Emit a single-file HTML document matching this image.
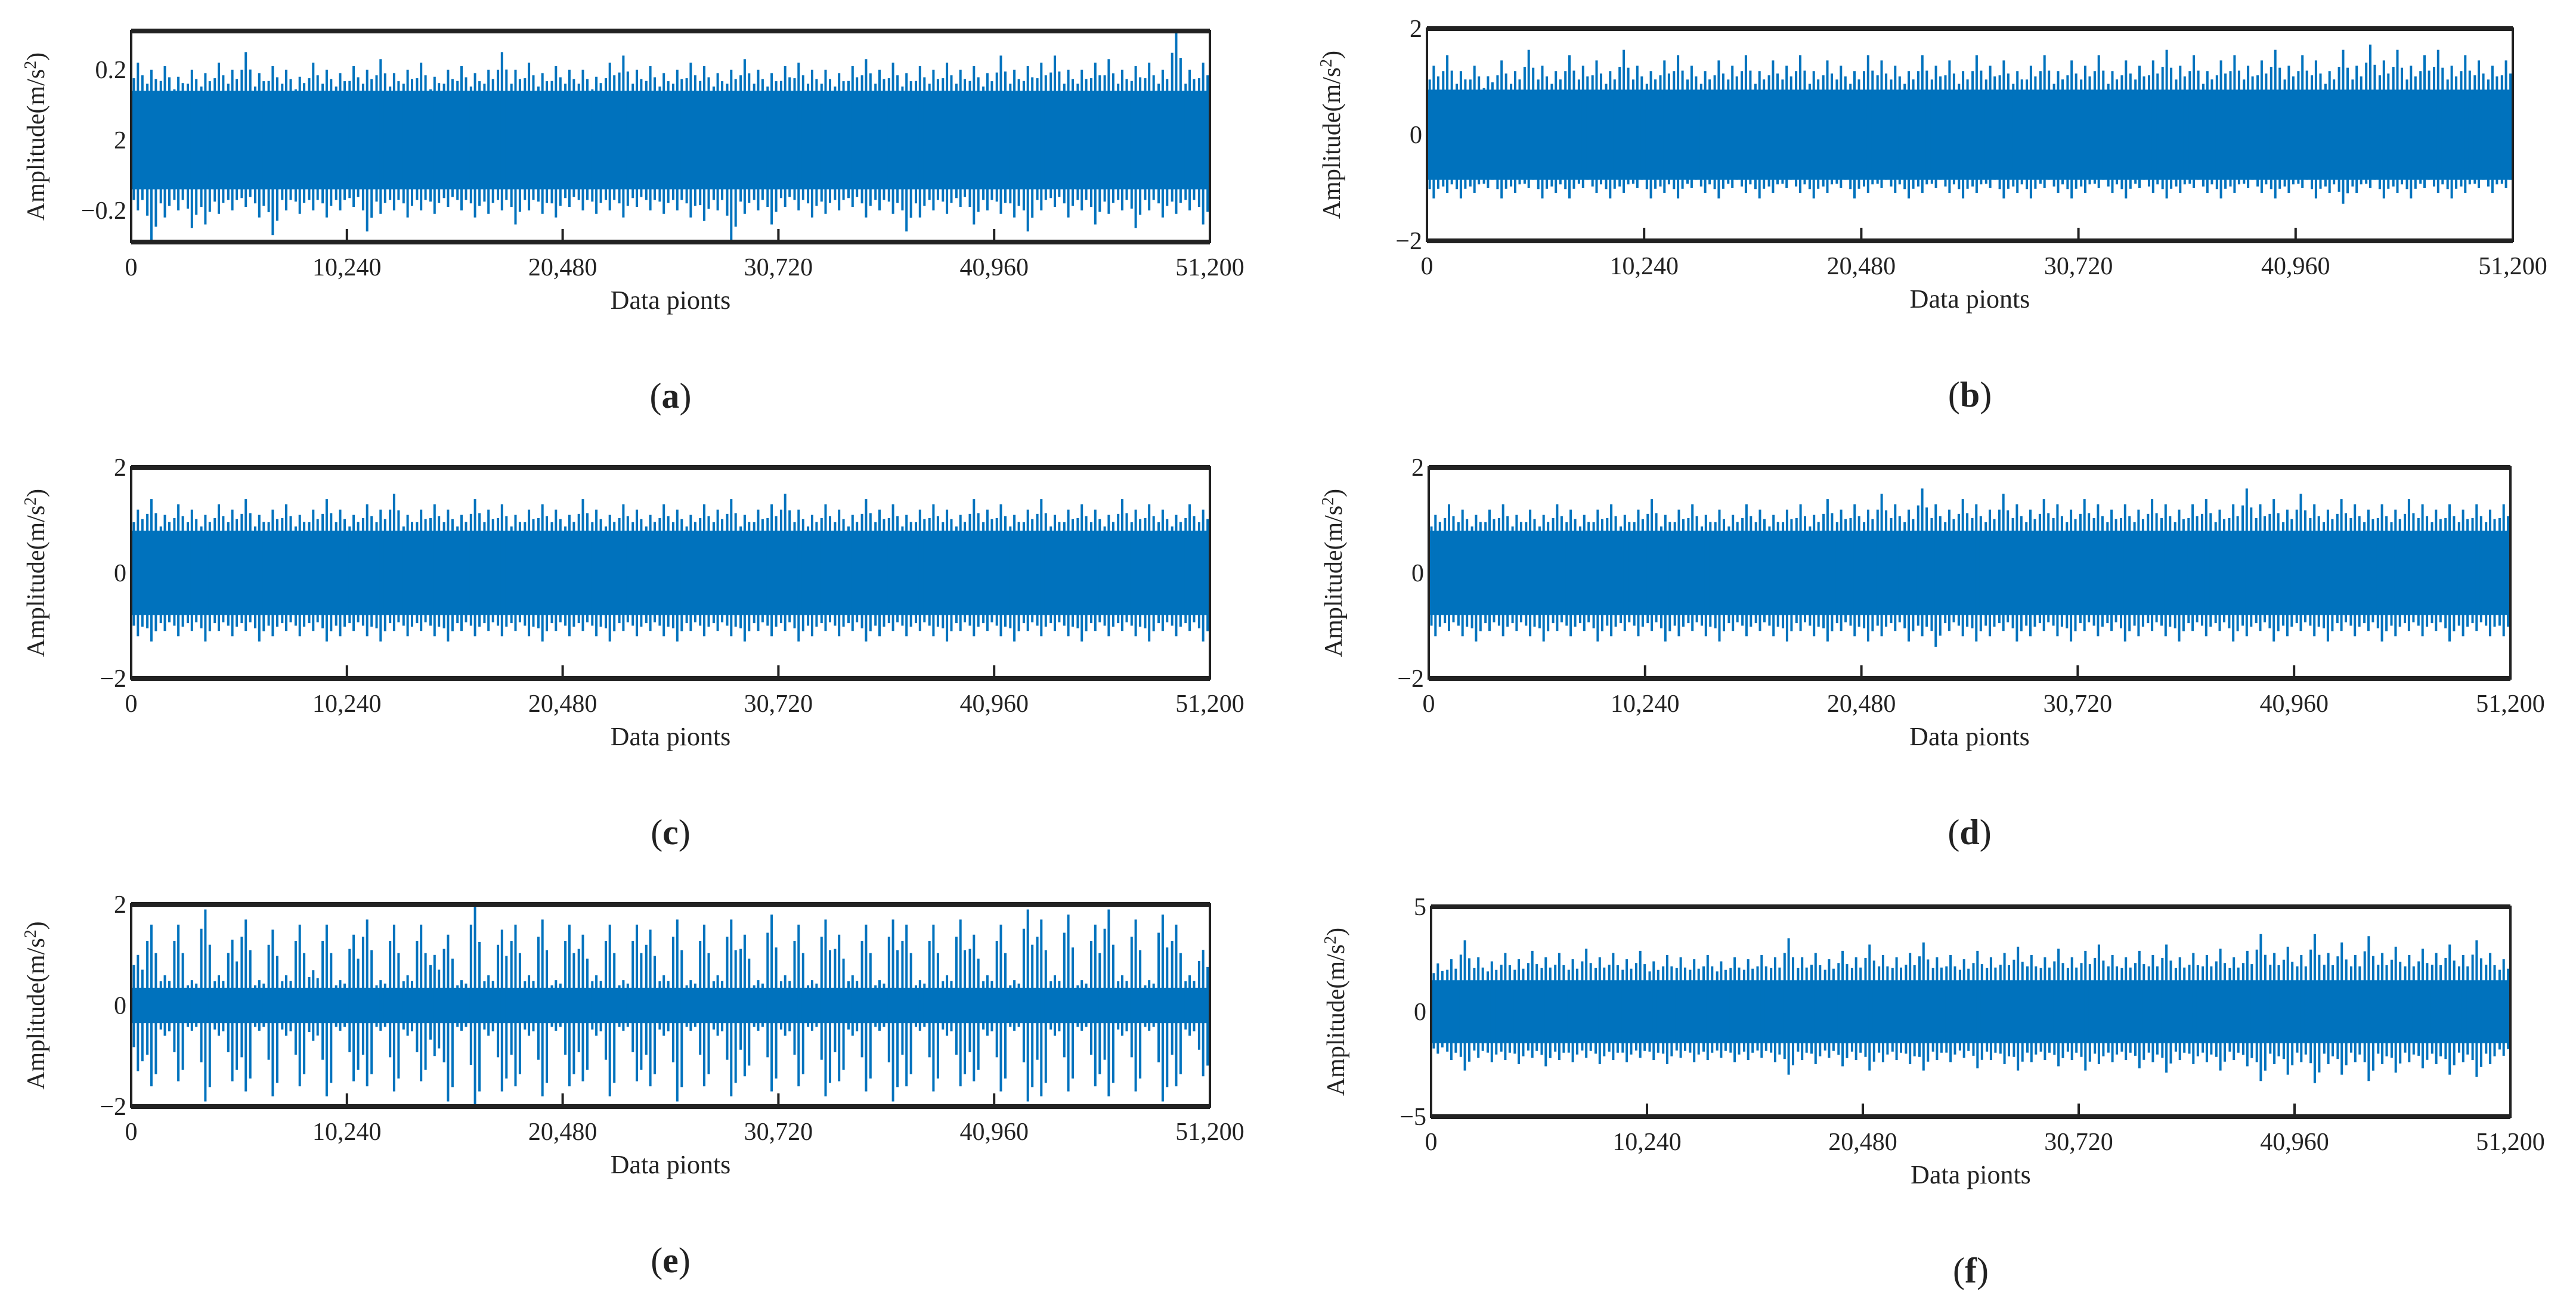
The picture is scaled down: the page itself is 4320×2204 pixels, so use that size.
<!DOCTYPE html>
<html><head><meta charset="utf-8">
<style>
html,body{margin:0;padding:0;background:#fff;}
svg{display:block;}
text{font-family:"Liberation Serif",serif;fill:#222;}
</style></head>
<body>
<svg id="fig" width="4320" height="2204" viewBox="0 0 4320 2204"></svg>
<script>
const xTicks=[0,10240,20480,30720,40960,51200];
const xTickLabels=["0","10,240","20,480","30,720","40,960","51,200"];
const panelIds=["a","b","c","d","e","f"];
const yMinA=-0.29, yMaxA=0.31, yTickA=[0.2,0,-0.2], yTickLabelA=["0.2","2","\u22120.2"];
const coreA=0.14;
const upA=[0.22,0.2,0.21,0.18,0.2,0.19,0.22,0.2,0.25,0.19,0.21,0.2,0.18,0.22,0.2,0.19,0.21,0.2,0.23,0.19,0.2,0.22,0.18,0.2,0.21,0.19,0.2,0.25,0.2,0.22,0.19,0.21,0.2,0.2,0.18,0.22,0.24,0.2,0.21,0.19,0.2,0.22,0.21,0.19,0.2,0.23,0.2,0.19,0.21,0.22,0.2,0.2,0.19,0.21,0.23,0.2,0.22,0.19,0.21,0.2,0.22,0.2,0.21,0.19,0.24,0.2,0.21,0.22,0.24,0.2,0.2,0.22,0.23,0.2,0.21,0.22,0.2,0.31,0.2,0.22];
const dnA=[-0.2,-0.29,-0.22,-0.2,-0.25,-0.24,-0.21,-0.2,-0.19,-0.22,-0.27,-0.2,-0.21,-0.2,-0.22,-0.2,-0.19,-0.26,-0.21,-0.2,-0.22,-0.2,-0.21,-0.19,-0.2,-0.22,-0.21,-0.2,-0.24,-0.2,-0.21,-0.22,-0.19,-0.2,-0.21,-0.2,-0.22,-0.19,-0.2,-0.21,-0.2,-0.22,-0.23,-0.2,-0.29,-0.21,-0.2,-0.24,-0.19,-0.2,-0.22,-0.21,-0.2,-0.19,-0.22,-0.2,-0.21,-0.26,-0.22,-0.2,-0.21,-0.19,-0.24,-0.2,-0.21,-0.22,-0.26,-0.2,-0.19,-0.22,-0.2,-0.24,-0.21,-0.2,-0.25,-0.2,-0.22,-0.21,-0.2,-0.24];
const yMinB=-2, yMaxB=2, yTickB=[2,0,-2], yTickLabelB=["2","0","\u22122"];
const coreB=0.85;
const upB=[1.3,1.5,1.2,1.3,1.1,1.4,1.2,1.6,1.3,1.2,1.5,1.3,1.4,1.2,1.6,1.3,1.2,1.4,1.5,1.3,1.2,1.4,1.3,1.5,1.2,1.4,1.3,1.5,1.2,1.4,1.3,1.2,1.5,1.4,1.3,1.2,1.5,1.3,1.4,1.2,1.5,1.3,1.4,1.2,1.3,1.5,1.2,1.4,1.3,1.5,1.2,1.4,1.3,1.4,1.6,1.3,1.5,1.2,1.4,1.5,1.3,1.4,1.6,1.3,1.5,1.4,1.2,1.6,1.3,1.7,1.4,1.6,1.3,1.5,1.6,1.3,1.5,1.4,1.3,1.4];
const dnB=[-1.2,-1.1,-1.2,-1.1,-1.0,-1.2,-1.1,-1.0,-1.2,-1.1,-1.2,-1.0,-1.1,-1.2,-1.1,-1.0,-1.2,-1.1,-1.2,-1.0,-1.1,-1.2,-1.0,-1.1,-1.2,-1.1,-1.0,-1.1,-1.2,-1.1,-1.0,-1.2,-1.1,-1.0,-1.1,-1.2,-1.1,-1.0,-1.1,-1.2,-1.1,-1.0,-1.2,-1.1,-1.2,-1.0,-1.1,-1.2,-1.1,-1.0,-1.1,-1.2,-1.0,-1.1,-1.2,-1.1,-1.0,-1.1,-1.2,-1.1,-1.0,-1.1,-1.2,-1.1,-1.0,-1.2,-1.1,-1.3,-1.1,-1.0,-1.2,-1.1,-1.2,-1.0,-1.1,-1.2,-1.1,-1.0,-1.1,-1.0];
const yMinC=-2, yMaxC=2, yTickC=[2,0,-2], yTickLabelC=["2","0","\u22122"];
const coreC=0.8;
const upC=[1.2,1.4,1.1,1.3,1.2,1.1,1.3,1.2,1.4,1.1,1.2,1.3,1.1,1.2,1.4,1.2,1.1,1.3,1.2,1.5,1.1,1.2,1.3,1.2,1.1,1.4,1.2,1.3,1.1,1.2,1.3,1.2,1.1,1.4,1.2,1.1,1.3,1.2,1.1,1.3,1.2,1.1,1.3,1.2,1.4,1.1,1.2,1.3,1.5,1.2,1.1,1.3,1.2,1.1,1.4,1.2,1.3,1.1,1.2,1.3,1.2,1.1,1.4,1.2,1.3,1.1,1.2,1.4,1.1,1.2,1.3,1.2,1.1,1.4,1.2,1.3,1.2,1.1,1.3,1.2];
const dnC=[-1.2,-1.3,-1.1,-1.2,-1.1,-1.3,-1.1,-1.2,-1.1,-1.3,-1.2,-1.1,-1.2,-1.1,-1.3,-1.2,-1.1,-1.2,-1.3,-1.1,-1.2,-1.1,-1.2,-1.3,-1.1,-1.2,-1.1,-1.2,-1.1,-1.2,-1.3,-1.1,-1.2,-1.1,-1.2,-1.3,-1.1,-1.2,-1.1,-1.2,-1.3,-1.1,-1.2,-1.1,-1.2,-1.3,-1.1,-1.2,-1.1,-1.3,-1.2,-1.1,-1.2,-1.1,-1.3,-1.2,-1.1,-1.2,-1.1,-1.2,-1.3,-1.1,-1.2,-1.1,-1.2,-1.3,-1.1,-1.2,-1.1,-1.2,-1.3,-1.1,-1.2,-1.1,-1.2,-1.3,-1.1,-1.2,-1.1,-1.3];
const yMinD=-2, yMaxD=2, yTickD=[2,0,-2], yTickLabelD=["2","0","\u22122"];
const coreD=0.8;
const upD=[1.1,1.3,1.2,1.1,1.2,1.3,1.1,1.2,1.1,1.3,1.2,1.1,1.2,1.3,1.1,1.2,1.4,1.1,1.2,1.3,1.1,1.2,1.1,1.3,1.2,1.1,1.2,1.3,1.1,1.4,1.2,1.3,1.2,1.5,1.3,1.2,1.6,1.3,1.2,1.4,1.3,1.2,1.5,1.3,1.2,1.4,1.3,1.2,1.4,1.3,1.2,1.3,1.2,1.4,1.3,1.2,1.3,1.4,1.2,1.3,1.6,1.3,1.4,1.2,1.5,1.3,1.2,1.4,1.3,1.2,1.3,1.2,1.4,1.3,1.2,1.3,1.2,1.3,1.2,1.3];
const dnD=[-1.2,-1.1,-1.2,-1.3,-1.1,-1.2,-1.1,-1.2,-1.3,-1.1,-1.2,-1.1,-1.3,-1.2,-1.1,-1.2,-1.1,-1.3,-1.2,-1.1,-1.2,-1.3,-1.1,-1.2,-1.1,-1.2,-1.3,-1.1,-1.2,-1.3,-1.1,-1.2,-1.3,-1.2,-1.1,-1.3,-1.2,-1.4,-1.1,-1.2,-1.3,-1.2,-1.1,-1.3,-1.2,-1.1,-1.2,-1.3,-1.1,-1.2,-1.1,-1.3,-1.2,-1.1,-1.2,-1.3,-1.1,-1.2,-1.1,-1.3,-1.2,-1.1,-1.3,-1.2,-1.1,-1.2,-1.3,-1.1,-1.2,-1.1,-1.3,-1.2,-1.1,-1.2,-1.1,-1.3,-1.2,-1.1,-1.2,-1.2];
const yMinE=-2, yMaxE=2, yTickE=[2,0,-2], yTickLabelE=["2","0","\u22122"];
const coreE=0.35;
const upE=[1.0,1.6,0.6,1.6,0.5,1.9,0.6,1.3,1.7,0.5,1.5,0.6,1.6,0.7,1.6,0.5,1.4,1.7,0.5,1.6,0.6,1.6,1.0,1.4,0.5,2.0,0.6,1.5,1.6,0.6,1.7,0.5,1.6,1.4,0.6,1.6,0.5,1.6,1.5,0.6,1.7,0.5,1.6,0.6,1.7,1.4,0.5,1.8,0.6,1.6,0.5,1.7,1.4,0.6,1.6,0.5,1.7,1.6,0.5,1.6,0.6,1.7,1.4,0.6,1.6,0.5,1.9,1.7,0.6,1.8,0.5,1.6,1.9,0.6,1.7,0.5,1.8,1.6,0.6,1.1];
const dnE=[-1.3,-1.6,-0.6,-1.5,-0.5,-1.9,-0.6,-1.5,-1.7,-0.5,-1.8,-0.6,-1.6,-0.7,-1.8,-0.5,-1.5,-1.6,-0.5,-1.7,-0.6,-1.5,-1.0,-1.9,-0.5,-2.0,-0.6,-1.7,-1.6,-0.6,-1.8,-0.5,-1.6,-1.5,-0.6,-1.8,-0.5,-1.5,-1.6,-0.6,-1.9,-0.5,-1.6,-0.6,-1.8,-1.4,-0.5,-1.7,-0.6,-1.6,-0.5,-1.8,-1.5,-0.6,-1.7,-0.5,-1.9,-1.6,-0.5,-1.7,-0.6,-1.6,-1.5,-0.6,-1.7,-0.5,-1.9,-1.8,-0.6,-1.7,-0.5,-1.6,-1.8,-0.6,-1.7,-0.5,-1.9,-1.6,-0.6,-1.4];
const yMinF=-5, yMaxF=5, yTickF=[5,0,-5], yTickLabelF=["5","0","\u22125"];
const coreF=1.5;
const upF=[2.3,2.5,3.4,2.6,2.4,2.8,2.5,2.9,2.6,2.8,2.5,3.0,2.6,2.8,2.5,2.9,2.4,2.7,2.6,2.5,2.7,2.4,2.6,2.5,2.7,2.6,3.5,2.6,2.8,2.5,2.9,2.6,3.2,2.7,2.6,2.8,3.3,2.6,2.7,2.5,2.9,2.6,2.8,3.1,2.7,2.6,3.0,2.6,2.9,3.2,2.7,2.6,2.9,2.7,3.2,2.6,2.8,2.7,3.0,2.6,2.9,3.7,2.8,3.1,2.7,3.7,2.8,3.3,2.7,3.6,2.8,3.1,2.7,3.0,2.8,3.2,2.7,3.4,2.8,2.5];
const dnF=[-2.0,-2.3,-2.8,-2.2,-2.4,-2.3,-2.5,-2.2,-2.6,-2.3,-2.4,-2.2,-2.5,-2.3,-2.4,-2.2,-2.3,-2.5,-2.2,-2.4,-2.3,-2.2,-2.4,-2.3,-2.2,-2.4,-3.0,-2.3,-2.5,-2.2,-2.6,-2.3,-2.8,-2.4,-2.3,-2.5,-2.8,-2.3,-2.4,-2.2,-2.7,-2.3,-2.5,-2.8,-2.4,-2.3,-2.6,-2.3,-2.8,-2.5,-2.4,-2.3,-2.7,-2.4,-2.9,-2.3,-2.5,-2.4,-2.8,-2.3,-2.6,-3.3,-2.5,-3.0,-2.4,-3.4,-2.5,-3.0,-2.4,-3.3,-2.5,-2.9,-2.4,-2.7,-2.5,-3.0,-2.4,-3.1,-2.5,-2.1];

const panels=[
 {id:"a",L:220,R:2029,T:52,B:406,yMin:yMinA,yMax:yMaxA,ticks:yTickA,labels:yTickLabelA,core:coreA,up:upA,dn:dnA},
 {id:"b",L:2393,R:4214,T:48,B:404,yMin:yMinB,yMax:yMaxB,ticks:yTickB,labels:yTickLabelB,core:coreB,up:upB,dn:dnB},
 {id:"c",L:220,R:2029,T:784,B:1138,yMin:yMinC,yMax:yMaxC,ticks:yTickC,labels:yTickLabelC,core:coreC,up:upC,dn:dnC},
 {id:"d",L:2396,R:4210,T:784,B:1138,yMin:yMinD,yMax:yMaxD,ticks:yTickD,labels:yTickLabelD,core:coreD,up:upD,dn:dnD},
 {id:"e",L:220,R:2029,T:1517,B:1856,yMin:yMinE,yMax:yMaxE,ticks:yTickE,labels:yTickLabelE,core:coreE,up:upE,dn:dnE},
 {id:"f",L:2400,R:4210,T:1521,B:1873,yMin:yMinF,yMax:yMaxF,ticks:yTickF,labels:yTickLabelF,core:coreF,up:upF,dn:dnF}
];
const NS="http://www.w3.org/2000/svg";
const svg=document.getElementById('fig');
function mk(tag,attrs,parent){const e=document.createElementNS(NS,tag);for(const k in attrs)e.setAttribute(k,attrs[k]);(parent||svg).appendChild(e);return e;}
const BLUE="#0072bd";
panels.forEach(p=>{
  const g=mk('g',{});
  
  
  const xs=v=>p.L+(v-xTicks[0])/(xTicks[xTicks.length-1]-xTicks[0])*(p.R-p.L);
  const ys=v=>p.B-(v-p.yMin)/(p.yMax-p.yMin)*(p.B-p.T);
  // core band
  const core=mk('rect',{x:p.L,y:ys(p.core),width:p.R-p.L,height:ys(-p.core)-ys(p.core),fill:BLUE},g);
  
  
  const n=p.up.length;
  const step=(xTicks[xTicks.length-1]-xTicks[0])/n;
  let d="";
  for(let i=0;i<n;i++){
    const xv=xTicks[0]+(i+0.5)*step;
    const x=xs(xv).toFixed(1);
    d+=`M${x},${ys(p.up[i]).toFixed(1)}V${ys(p.dn[i]).toFixed(1)}`;
    // secondary hairs
    const x2=xs(xv+step*0.33).toFixed(1), x3=xs(xv-step*0.3).toFixed(1);
    d+=`M${x2},${ys(p.core+(p.up[i]-p.core)*0.55).toFixed(1)}V${ys(p.dn[i]*0.85).toFixed(1)}`;
    d+=`M${x3},${ys(p.up[i]*0.8).toFixed(1)}V${ys(-p.core-(-p.dn[i]-p.core)*0.5).toFixed(1)}`;
  }
  const sig=mk('path',{d:d,stroke:BLUE,'stroke-width':4,fill:'none'},g);
  
  
  // frame
  const fr=mk('rect',{x:p.L,y:p.T,width:p.R-p.L,height:p.B-p.T,fill:'none',stroke:'#222','stroke-width':4},g);
  
  
  mk('line',{x1:p.L,x2:p.R,y1:p.T,y2:p.T,stroke:'#222','stroke-width':8},g);
  mk('line',{x1:p.L,x2:p.R,y1:p.B,y2:p.B,stroke:'#222','stroke-width':8},g);
  // x ticks
  xTicks.forEach((t,i)=>{
    const x=xs(t);
    if(i>0&&i<xTicks.length-1) mk('line',{x1:x,x2:x,y1:p.B,y2:p.B-22,stroke:'#222','stroke-width':4},g);
    const tx=mk('text',{x:x,y:p.B+56,'font-size':42,'text-anchor':'middle'},g);
    tx.textContent=xTickLabels[i];
    
    
  });
  // y ticks
  p.ticks.forEach((t,i)=>{
    const y=ys(t);
    const ty=mk('text',{x:p.L-8,y:y+14,'font-size':42,'text-anchor':'end'},g);
    ty.textContent=p.labels[i];
    
    
  });
  const xt=mk('text',{x:(p.L+p.R)/2,y:p.B+112,'font-size':44,'text-anchor':'middle'},g);
  xt.textContent="Data pionts";
  
  
  const cy=(p.T+p.B)/2, cx=p.L-160;
  const yt=mk('text',{x:cx,y:cy,'font-size':42,'text-anchor':'middle',transform:`rotate(-90 ${cx} ${cy}) translate(0 14)`},g);
  yt.innerHTML='Amplitude(m/s<tspan dy="-14" font-size="28">2</tspan><tspan dy="14">)</tspan>';
  
  
  const lb=mk('text',{x:(p.L+p.R)/2,y:p.B+278,'font-size':60,'text-anchor':'middle'},g);
  lb.innerHTML='(<tspan font-weight="bold">'+p.id+'</tspan>)';
  
  
});
</script>
</body></html>
